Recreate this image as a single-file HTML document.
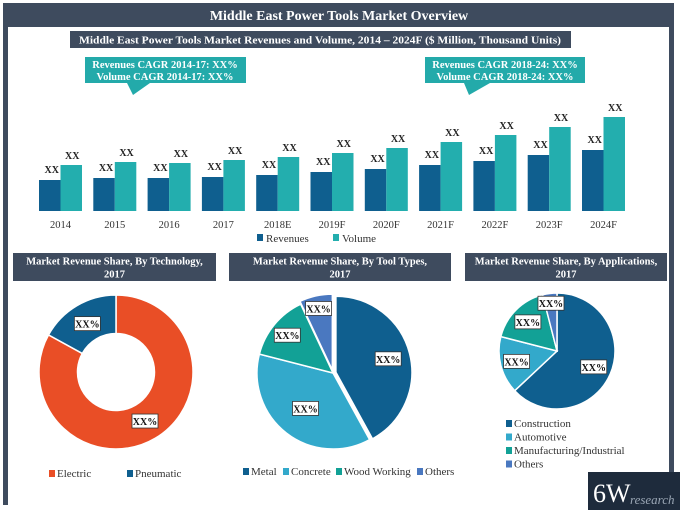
<!DOCTYPE html>
<html><head><meta charset="utf-8"><style>
body{margin:0;width:680px;height:513px;background:#fff;overflow:hidden}
svg{display:block;font-family:"Liberation Serif",serif}
</style></head><body>
<svg id="c" width="680" height="513" viewBox="0 0 680 513">
<rect x="3" y="3" width="5" height="502" fill="#3e4b5e"/>
<rect x="669" y="3" width="5" height="472" fill="#3e4b5e"/>
<rect x="3" y="3" width="671" height="24" fill="#3e4b5e"/>
<text x="339" y="20" text-anchor="middle" fill="#fff" font-weight="bold" font-size="14">Middle East Power Tools Market Overview</text>
<rect x="70" y="31" width="501" height="17" fill="#3e4b5e"/>
<text x="320" y="43.5" text-anchor="middle" fill="#fff" font-weight="bold" font-size="11" textLength="482" lengthAdjust="spacingAndGlyphs">Middle East Power Tools Market Revenues and Volume, 2014 – 2024F ($ Million, Thousand Units)</text>
<g>
<path d="M85,57 H246 V83 H150 L133,95 L127,83 H85 Z" fill="#23aaaa"/>
<text x="165" y="68" text-anchor="middle" fill="#fff" font-weight="bold" font-size="10.5">Revenues CAGR 2014-17: XX%</text>
<text x="165" y="80" text-anchor="middle" fill="#fff" font-weight="bold" font-size="10.5">Volume CAGR 2014-17: XX%</text>
</g>
<g>
<path d="M425,57 H585 V83 H490 L469,95 L464,83 H425 Z" fill="#23aaaa"/>
<text x="505" y="68" text-anchor="middle" fill="#fff" font-weight="bold" font-size="10.5">Revenues CAGR 2018-24: XX%</text>
<text x="505" y="80" text-anchor="middle" fill="#fff" font-weight="bold" font-size="10.5">Volume CAGR 2018-24: XX%</text>
</g>
<g id="bars"></g>
<g id="pies"></g>
<g>
<rect x="588" y="472" width="92" height="38" fill="#1e2b3c"/>
<text x="593" y="502" fill="#fff" font-size="26">6W</text>
<text x="630" y="504" fill="#9aa6b4" font-size="13" font-style="italic">research</text>
</g>
</svg>
<script>
const years=["2014","2015","2016","2017","2018E","2019F","2020F","2021F","2022F","2023F","2024F"];
const revenues=[31,33,33,34,36,39,42,46,50,56,61];
const volumes=[46,49,48,51,54,58,63,69,76,84,94];
const barLabels=["XX","XX","XX","XX","XX","XX","XX","XX","XX","XX","XX"];
const techLabels=["Electric","Pneumatic"];
const techShares=[83,17];
const toolLabels=["Metal","Concrete","Wood Working","Others"];
const toolShares=[42,37,14,7];
const appLabels=["Construction","Automotive","Manufacturing/Industrial","Others"];
const appShares=[63,16,17,4];

const NS="http://www.w3.org/2000/svg";
function mk(tag,at,parent){const e=document.createElementNS(NS,tag);for(const k in at)e.setAttribute(k,at[k]);parent.appendChild(e);return e;}
const bars=document.getElementById('bars');
const base=211,scale=1.0,x0=39,step=54.3,bw=21.5;
const yv=v=>base-v*scale;
years.forEach((yr,i)=>{
  const x=x0+i*step;
  const r=mk('rect',{x:x,y:yv(revenues[i]),width:bw,height:base-yv(revenues[i]),fill:'#0f5f8f'},bars);
  
  
  const v=mk('rect',{x:x+bw,y:yv(volumes[i]),width:bw,height:base-yv(volumes[i]),fill:'#23aeae'},bars);
  
  
  const t1=mk('text',{x:x+bw/2+2,y:yv(revenues[i])-7,'text-anchor':'middle','font-size':'10','font-weight':'bold',fill:'#222'},bars);t1.textContent=barLabels[i];
  
  
  const t2=mk('text',{x:x+bw*1.5+1,y:yv(volumes[i])-6,'text-anchor':'middle','font-size':'10','font-weight':'bold',fill:'#222'},bars);t2.textContent=barLabels[i];
  
  
  const t3=mk('text',{x:x+bw,y:228,'text-anchor':'middle','font-size':'10.5',fill:'#333'},bars);t3.textContent=yr;
  
  
});
[['Revenues','#0f5f8f',257],['Volume','#23aeae',333]].forEach(([n,c,x])=>{
  const g=mk('g',{},bars);
  
  
  mk('rect',{x:x,y:234,width:6,height:7,fill:c},g);
  const t=mk('text',{x:x+9,y:242,'font-size':'11',fill:'#333'},g);t.textContent=n;
});

const pies=document.getElementById('pies');
function header(x,w,l1,name){
  const g=mk('g',{},pies);
  
  
  mk('rect',{x:x,y:253,width:w,height:28,fill:'#3e4b5e'},g);
  const t=mk('text',{x:x+w/2,y:264.5,'text-anchor':'middle',fill:'#fff','font-weight':'bold','font-size':'10.5'},g);t.textContent=l1;
  const t2=mk('text',{x:x+w/2,y:277.5,'text-anchor':'middle',fill:'#fff','font-weight':'bold','font-size':'10.5'},g);t2.textContent='2017';
}
header(13,203,'Market Revenue Share, By Technology,','header-technology');
header(229,222,'Market Revenue Share, By Tool Types,','header-tool-types');
header(465,202,'Market Revenue Share, By Applications,','header-applications');

function pt(cx,cy,rx,ry,a){return [cx+rx*Math.sin(a),cy-ry*Math.cos(a)];}
function pie(cx,cy,r,shares,colors,labels,hole,labelPos,prefix,explode){
  const tot=shares.reduce((a,b)=>a+b,0);let a0=0;
  shares.forEach((s,i)=>{
    const a1=a0+s/tot*Math.PI*2,mid=(a0+a1)/2;
    let ox=0,oy=0;if(explode&&explode[i]){ox=explode[i]*Math.sin(mid);oy=-explode[i]*Math.cos(mid);}
    const c1=pt(cx+ox,cy+oy,r,r,a0),c2=pt(cx+ox,cy+oy,r,r,a1),lg=(a1-a0)>Math.PI?1:0;
    let d;
    if(hole){const h1=pt(cx,cy,r*hole,r*hole,a1),h2=pt(cx,cy,r*hole,r*hole,a0);
      d=`M${c1} A${r},${r} 0 ${lg} 1 ${c2} L${h1} A${r*hole},${r*hole} 0 ${lg} 0 ${h2} Z`;}
    else d=`M${cx+ox},${cy+oy} L${c1} A${r},${r} 0 ${lg} 1 ${c2} Z`;
    const p=mk('path',{d:d,fill:colors[i],stroke:'#fff','stroke-width':'1.5'},pies);
    
    
    const lp=pt(cx,cy,r*labelPos[i],r*labelPos[i],mid);
    const g=mk('g',{},pies);
    
    
    mk('rect',{x:lp[0]-13,y:lp[1]-7,width:26,height:14,fill:'#fff',stroke:'#333','stroke-width':'0.8'},g);
    const t=mk('text',{x:lp[0],y:lp[1]+4,'text-anchor':'middle','font-size':'10','font-weight':'bold',fill:'#111'},g);t.textContent='XX%';
    a0=a1;
  });
}
pie(116,372,77,techShares,['#e94e26','#0f5f8f'],techLabels,0.5,[0.74,0.73],'technology');
pie(333,373,76,toolShares,['#0f5f8f','#33a9cb','#12a196','#4a78c0'],toolLabels,0,[0.75,0.59,0.78,0.87],'tool-types',[3,0,0,3]);
pie(557,351,58,appShares,['#0f5f8f','#33a9cb','#12a196','#4a78c0'],appLabels,0,[0.69,0.72,0.71,0.83],'applications');

function legendItem(x,y,c,label,name){
  const g=mk('g',{},pies);
  
  
  mk('rect',{x:x,y:y-7,width:6,height:7,fill:c},g);
  const t=mk('text',{x:x+8,y:y,'font-size':'11',fill:'#333'},g);t.textContent=label;
}
legendItem(49,477,'#e94e26',techLabels[0],'legend-electric');
legendItem(127,477,'#0f5f8f',techLabels[1],'legend-pneumatic');
const tc=['#0f5f8f','#33a9cb','#12a196','#4a78c0'],tx=[243,283,336,417];
toolLabels.forEach((l,i)=>legendItem(tx[i],475,tc[i],l,'legend-tool-'+i));
appLabels.forEach((l,i)=>legendItem(506,427+i*13.5,tc[i],l,'legend-app-'+i));
</script>
</body></html>
